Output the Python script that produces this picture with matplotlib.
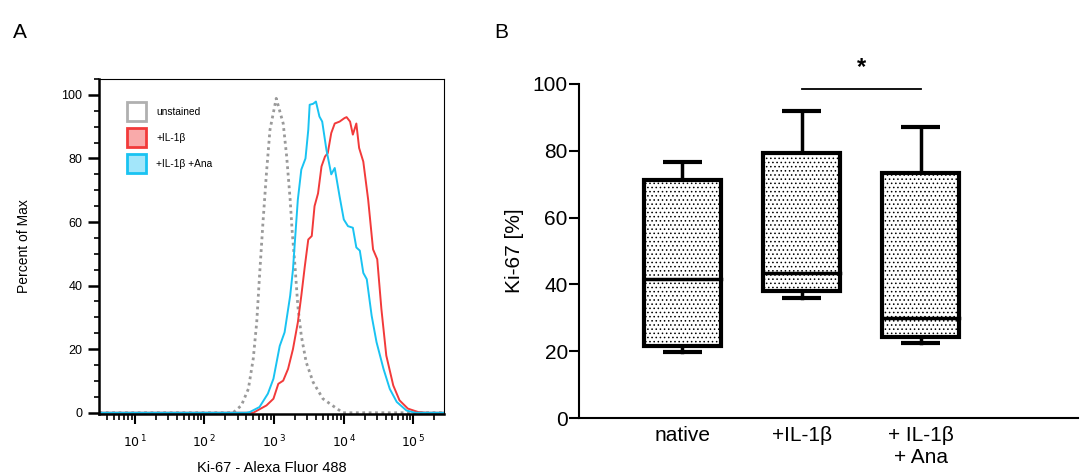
import matplotlib
matplotlib.use("Agg")
import matplotlib.pyplot as plt
from matplotlib.patches import Patch
from matplotlib.ticker import LogLocator, NullFormatter, MultipleLocator
import numpy as np

plt.rcParams['font.family'] = ['Liberation Sans', 'DejaVu Sans']
plt.rcParams['hatch.linewidth'] = 0.6

# --- panel A: flow histograms (log10 intensity, percent of max) ---
unst_x = [0.4, 2.41, 2.53, 2.63, 2.70, 2.75, 2.79, 2.84, 2.89, 2.94, 3.03, 3.13,
          3.18, 3.23, 3.26, 3.30, 3.34, 3.39, 3.46, 3.56, 3.70, 3.90, 3.99, 5.5]
unst_y = [0, 0, 2.3, 7.5, 17, 28.5, 43, 60, 75.5, 89, 98.9, 91, 80.6, 67, 56.7,
          46, 33.6, 24.2, 15.9, 9.6, 4.4, 1.3, 0, 0]

ana_x = [0.4, 2.60, 2.65, 2.79, 2.91, 2.99, 3.08, 3.15, 3.23, 3.27, 3.30, 3.34,
         3.39, 3.45, 3.49, 3.51, 3.56, 3.60, 3.65, 3.69, 3.75, 3.82, 3.87, 3.94,
         4.00, 4.06, 4.13, 4.18, 4.23, 4.28, 4.33, 4.40, 4.47, 4.57, 4.66, 4.76,
         4.90, 5.02, 5.5]
ana_y = [0, 0, 0.2, 1.8, 6, 10.7, 21, 25.3, 36.8, 45, 54.5, 67, 76.5, 80, 89,
         96.9, 97.2, 97.9, 93.2, 91.6, 82.8, 75, 77, 68, 60.8, 58.7, 58.2, 52, 51,
         44, 42, 30.5, 22.2, 13.8, 7.5, 3.4, 0.7, 0, 0]

il_x = [0.4, 2.70, 2.89, 2.99, 3.06, 3.13, 3.20, 3.27, 3.34, 3.39, 3.44, 3.49,
        3.54, 3.58, 3.63, 3.68, 3.73, 3.77, 3.82, 3.87, 3.94, 4.01, 4.04, 4.09,
        4.13, 4.18, 4.22, 4.28, 4.35, 4.42, 4.48, 4.54, 4.61, 4.71, 4.80, 4.92,
        5.07, 5.2, 5.5]
il_y = [0, 0, 2.3, 4.4, 9.1, 10.1, 13.8, 20, 28.4, 36.8, 46, 54.5, 55.6, 65, 69,
        77.5, 80.6, 81.7, 88, 91, 91.6, 92.7, 93, 91.6, 87.5, 91, 83.3, 79, 67,
        51.4, 48.3, 32.6, 18, 8.6, 3.9, 1.3, 0.2, 0, 0]

# --- panel B: box plot stats (whisker low, q1, median, q3, whisker high) ---
groups = ['native', '+IL-1β', '+ IL-1β\n+ Ana']
w_lo = [19.7, 35.8, 22.6]
q1 = [21.6, 38.1, 24.2]
med = [41.6, 43.5, 30.0]
q3 = [71.3, 79.4, 73.3]
w_hi = [76.6, 91.8, 87.2]

fig = plt.figure(figsize=(10.8, 4.75), dpi=100)

# ---------------- A ----------------
ax = fig.add_axes([0.0917, 0.1284, 0.3195, 0.7053])
ax.set_xscale('log')
ax.plot(10 ** np.array(unst_x), unst_y, color='#9a9a9a', ls=(0, (1, 1.3)), lw=2)
ax.plot(10 ** np.array(il_x), il_y, color='#f23a3a', lw=1.4)
ax.plot(10 ** np.array(ana_x), ana_y, color='#19c3f2', lw=1.4)
ax.set_xlim(10 ** 0.486, 10 ** 5.44)
ax.set_ylim(-0.4, 105)
ax.set_xticks([1e1, 1e2, 1e3, 1e4, 1e5])
ax.set_xticklabels([r'$10^{\,1}$', r'$10^{\,2}$', r'$10^{\,3}$', r'$10^{\,4}$', r'$10^{\,5}$'],
                   fontsize=9)
ax.xaxis.set_minor_locator(LogLocator(base=10, subs=np.arange(2, 10)))
ax.xaxis.set_minor_formatter(NullFormatter())
ax.tick_params(axis='x', which='major', length=7, width=1.5, pad=7)
ax.tick_params(axis='x', which='minor', length=4, width=1.2)
ax.set_yticks([0, 20, 40, 60, 80, 100])
ax.yaxis.set_minor_locator(MultipleLocator(5))
ax.tick_params(axis='y', which='major', length=8, width=1.8, labelsize=9, pad=4)
ax.tick_params(axis='y', which='minor', length=3.5, width=1.2)
for s in ['left', 'bottom']:
    ax.spines[s].set_linewidth(1.8)
for s in ['top', 'right']:
    ax.spines[s].set_linewidth(0.8)
ax.set_ylabel('Percent of Max', fontsize=10, labelpad=22)
ax.set_xlabel('Ki-67 - Alexa Fluor 488', fontsize=10.5, labelpad=8)
handles = [Patch(facecolor='white', edgecolor='#b0b0b0', lw=2),
           Patch(facecolor='#f9aaaa', edgecolor='#f23a3a', lw=2),
           Patch(facecolor='#a3e6fa', edgecolor='#19c3f2', lw=2)]
ax.legend(handles, ['unstained', '+IL-1β', '+IL-1β +Ana'], loc='upper left',
          bbox_to_anchor=(0.081, 0.93), frameon=False, fontsize=7.3, borderpad=0,
          borderaxespad=0, handlelength=1.9, handleheight=2.4, labelspacing=0.75,
          handletextpad=1.0)
fig.text(0.012, 0.932, 'A', fontsize=15, va='center')

# ---------------- B ----------------
bx = fig.add_axes([0.536, 0.12, 0.462, 0.7032])
pos = np.arange(len(groups))
bw = 0.65
for i in pos:
    bx.bar(i, q3[i] - q1[i], bottom=q1[i], width=bw, facecolor='white',
           edgecolor='black', lw=3, hatch='....', zorder=2)
    bx.plot([i - bw / 2, i + bw / 2], [med[i], med[i]], color='black', lw=2.5, zorder=3)
    bx.plot([i, i], [q3[i], w_hi[i]], color='black', lw=2.5, zorder=1)
    bx.plot([i, i], [w_lo[i], q1[i]], color='black', lw=2.5, zorder=1)
    bx.plot([i - bw / 4, i + bw / 4], [w_hi[i], w_hi[i]], color='black', lw=3,
            solid_capstyle='butt')
    bx.plot([i - bw / 4, i + bw / 4], [w_lo[i], w_lo[i]], color='black', lw=3,
            solid_capstyle='butt')
bx.plot([1, 2], [98.5, 98.5], color='black', lw=1.3, clip_on=False)
bx.text(1.5, 101.5, '*', ha='center', va='bottom', fontsize=17, fontweight='bold')
bx.set_xlim(-0.87, 3.32)
bx.set_ylim(0, 100)
bx.set_xticks(pos)
bx.set_xticklabels(groups, fontsize=15, linespacing=1.2)
bx.tick_params(axis='x', length=0, pad=6)
bx.set_yticks([0, 20, 40, 60, 80, 100])
bx.tick_params(axis='y', length=7, width=1.5, labelsize=15, pad=1)
bx.spines['top'].set_visible(False)
bx.spines['right'].set_visible(False)
bx.spines['left'].set_linewidth(1.5)
bx.spines['bottom'].set_linewidth(1.5)
bx.set_ylabel('Ki-67 [%]', fontsize=15, labelpad=6)
fig.text(0.458, 0.932, 'B', fontsize=15, va='center')

fig.savefig('out.png', dpi=100)
